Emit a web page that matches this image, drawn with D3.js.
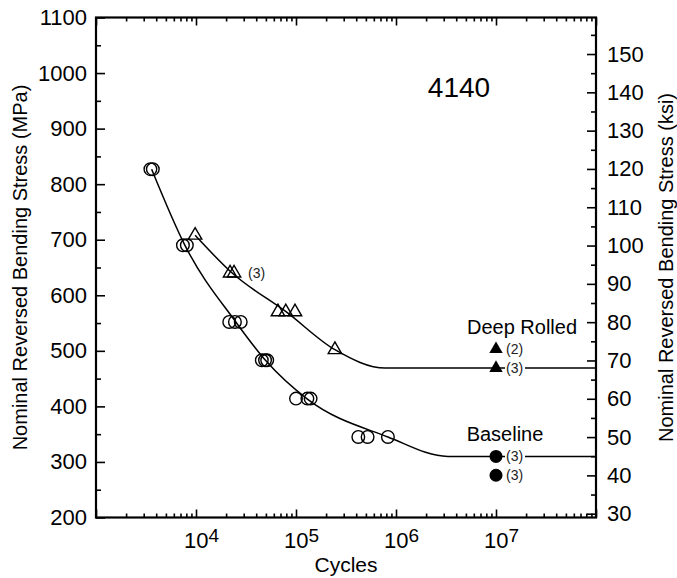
<!DOCTYPE html>
<html>
<head>
<meta charset="utf-8">
<script src="https://cdn.jsdelivr.net/npm/d3@7"></script>
<style>
  body { margin: 0; background: #fff; }
  svg { font-family: Arial, "Liberation Sans", sans-serif; }
</style>
</head>
<body>
<svg id="chart"></svg>
<script>
// baseline (open circles)
const baseCycles = [3500, 3700, 7400, 8100, 21500, 24500, 28000, 45500, 49000, 51500, 100000, 130000, 140000, 420000, 520000, 830000]
const baseStress = [827, 827, 690, 690, 552, 552, 552, 483, 483, 483, 414, 414, 414, 345, 345, 345]
// deep rolled (open triangles)
const deepCycles = [9800, 21900, 24000, 66000, 79000, 97700, 245000]
const deepStress = [708, 640, 640, 570, 570, 570, 502]
// run-outs at 10^7
const deepRunoutStress = [503, 469]
const deepRunoutLabels = ['(2)', '(3)']
const baseRunoutStress = [310, 276]
const baseRunoutLabels = ['(3)', '(3)']
const runoutCycles = 1e7
// fitted curves
const baseFitCycles = [3600, 7800, 25000, 50000, 130000, 830000, 3.3e6, 1e8]
const baseFitStress = [827, 689, 552, 482, 413, 345, 310, 310]
const deepFitCycles = [9800, 23000, 80000, 245000, 7.8e5, 1e8]
const deepFitStress = [708, 640, 570, 502, 469, 469]
// axes
const mpaTicks = [200, 300, 400, 500, 600, 700, 800, 900, 1000, 1100]
const ksiTicks = [30, 40, 50, 60, 70, 80, 90, 100, 110, 120, 130, 140, 150]
const decades = [4, 5, 6, 7]
const MPA_PER_KSI = 6.895

const W = 677, H = 578
const pLeft = 96, pRight = 596, pTop = 17.5, pBottom = 517.5

const svg = d3.select('#chart').attr('width', W).attr('height', H)

const x = d3.scaleLog().domain([1e3, 1e8]).range([pLeft, pRight])
const y = d3.scaleLinear().domain([200, 1100]).range([pBottom, pTop])
const yK = d3.scaleLinear().domain([200 / MPA_PER_KSI, 1100 / MPA_PER_KSI]).range([pBottom, pTop])

// minor log ticks
const logMinor = []
for (let e = 3; e < 8; e++) for (let m = 2; m <= 9; m++) logMinor.push(m * 10 ** e)
const logMajor = [1e3, 1e4, 1e5, 1e6, 1e7, 1e8]

function styleAxis(g) {
    g.select('.domain').remove()
    g.selectAll('line').attr('stroke', '#000').attr('stroke-width', 1.6)
    g.selectAll('text').attr('fill', '#000').style('font-size', '22px').style('font-family', 'Arial, "Liberation Sans", sans-serif')
}

// bottom
svg.append('g').attr('transform', `translate(0,${pBottom})`)
    .call(d3.axisBottom(x).tickValues(logMinor).tickSize(-4).tickFormat(''))
    .call(styleAxis)
svg.append('g').attr('transform', `translate(0,${pBottom})`)
    .call(d3.axisBottom(x).tickValues(logMajor).tickSize(-8).tickFormat(''))
    .call(styleAxis)
// top
svg.append('g').attr('transform', `translate(0,${pTop})`)
    .call(d3.axisTop(x).tickValues(logMinor).tickSize(-4).tickFormat(''))
    .call(styleAxis)
svg.append('g').attr('transform', `translate(0,${pTop})`)
    .call(d3.axisTop(x).tickValues(logMajor).tickSize(-8).tickFormat(''))
    .call(styleAxis)

// left (MPa)
svg.append('g').attr('transform', `translate(${pLeft},0)`)
    .call(d3.axisLeft(y).tickValues(d3.range(250, 1100, 100)).tickSize(-5).tickFormat(''))
    .call(styleAxis)
svg.append('g').attr('transform', `translate(${pLeft},0)`)
    .call(d3.axisLeft(y).tickValues(mpaTicks).tickSize(-9).tickPadding(9).tickFormat(d3.format('d')))
    .call(styleAxis)

// right (ksi)
svg.append('g').attr('transform', `translate(${pRight},0)`)
    .call(d3.axisRight(yK).tickValues(d3.range(35, 160, 10)).tickSize(-5).tickFormat(''))
    .call(styleAxis)
svg.append('g').attr('transform', `translate(${pRight},0)`)
    .call(d3.axisRight(yK).tickValues(ksiTicks).tickSize(-9).tickPadding(11).tickFormat(d3.format('d')))
    .call(styleAxis)

// frame
svg.append('rect')
    .attr('x', pLeft).attr('y', pTop)
    .attr('width', pRight - pLeft).attr('height', pBottom - pTop)
    .attr('fill', 'none').attr('stroke', '#000').attr('stroke-width', 2.2)

// decade labels 10^n
const dl = svg.append('g').selectAll('text').data(decades).join('text')
    .attr('x', d => x(10 ** d) - 12)
    .attr('y', 548)
    .style('font-size', '22px')
dl.append('tspan').text('10')
dl.append('tspan').attr('dy', -6).style('font-size', '19px').text(d => d)

// axis titles
svg.append('text')
    .attr('transform', `translate(${(pLeft + pRight) / 2},572)`)
    .attr('text-anchor', 'middle').style('font-size', '21px').text('Cycles')
svg.append('text')
    .attr('transform', `translate(27,${(pTop + pBottom) / 2}) rotate(-90)`)
    .attr('text-anchor', 'middle').style('font-size', '20px').text('Nominal Reversed Bending Stress (MPa)')
svg.append('text')
    .attr('transform', `translate(673,${(pTop + pBottom) / 2}) rotate(-90)`)
    .attr('text-anchor', 'middle').style('font-size', '20px').text('Nominal Reversed Bending Stress (ksi)')

// fit curves
const line = d3.line().x(d => x(d[0])).y(d => y(d[1])).curve(d3.curveMonotoneX)
svg.append('path').datum(d3.zip(baseFitCycles, baseFitStress))
    .attr('d', line).attr('fill', 'none').attr('stroke', '#000').attr('stroke-width', 1.5)
svg.append('path').datum(d3.zip(deepFitCycles, deepFitStress))
    .attr('d', line).attr('fill', 'none').attr('stroke', '#000').attr('stroke-width', 1.5)

// open circles
svg.append('g').selectAll('circle').data(d3.zip(baseCycles, baseStress)).join('circle')
    .attr('cx', d => x(d[0])).attr('cy', d => y(d[1])).attr('r', 6.3)
    .attr('fill', 'none').attr('stroke', '#000').attr('stroke-width', 1.4)

// open triangles
const tri = d3.symbol(d3.symbolTriangle, 78)
svg.append('g').selectAll('path').data(d3.zip(deepCycles, deepStress)).join('path')
    .attr('d', tri).attr('transform', d => `translate(${x(d[0])},${y(d[1])})`)
    .attr('fill', 'none').attr('stroke', '#000').attr('stroke-width', 1.4)

svg.append('text').attr('x', x(24000) + 14).attr('y', y(640)).attr('dy', '0.35em')
    .style('font-size', '14px').attr('fill', '#222').text('(3)')

// run-out labels with white background
function runoutLabel(s, lab) {
    const g = svg.append('g').attr('transform', `translate(${x(runoutCycles) + 9},${y(s)})`)
    g.append('rect').attr('x', 0).attr('y', -8).attr('width', 20).attr('height', 16).attr('fill', '#fff')
    g.append('text').attr('x', 1).attr('dy', '0.36em').style('font-size', '14px').attr('fill', '#222').text(lab)
}
deepRunoutStress.forEach((s, i) => runoutLabel(s, deepRunoutLabels[i]))
baseRunoutStress.forEach((s, i) => runoutLabel(s, baseRunoutLabels[i]))

svg.append('g').selectAll('path').data(deepRunoutStress).join('path')
    .attr('d', tri).attr('transform', d => `translate(${x(runoutCycles)},${y(d)})`)
    .attr('fill', '#000')
svg.append('g').selectAll('circle').data(baseRunoutStress).join('circle')
    .attr('cx', x(runoutCycles)).attr('cy', d => y(d)).attr('r', 6.5).attr('fill', '#000')

// annotations
svg.append('text').attr('x', 522).attr('y', 334).attr('text-anchor', 'middle')
    .style('font-size', '20px').text('Deep Rolled')
svg.append('text').attr('x', 505).attr('y', 441).attr('text-anchor', 'middle')
    .style('font-size', '20px').text('Baseline')
svg.append('text').attr('x', 459).attr('y', 97).attr('text-anchor', 'middle')
    .style('font-size', '28px').text('4140')
</script>
</body>
</html>
